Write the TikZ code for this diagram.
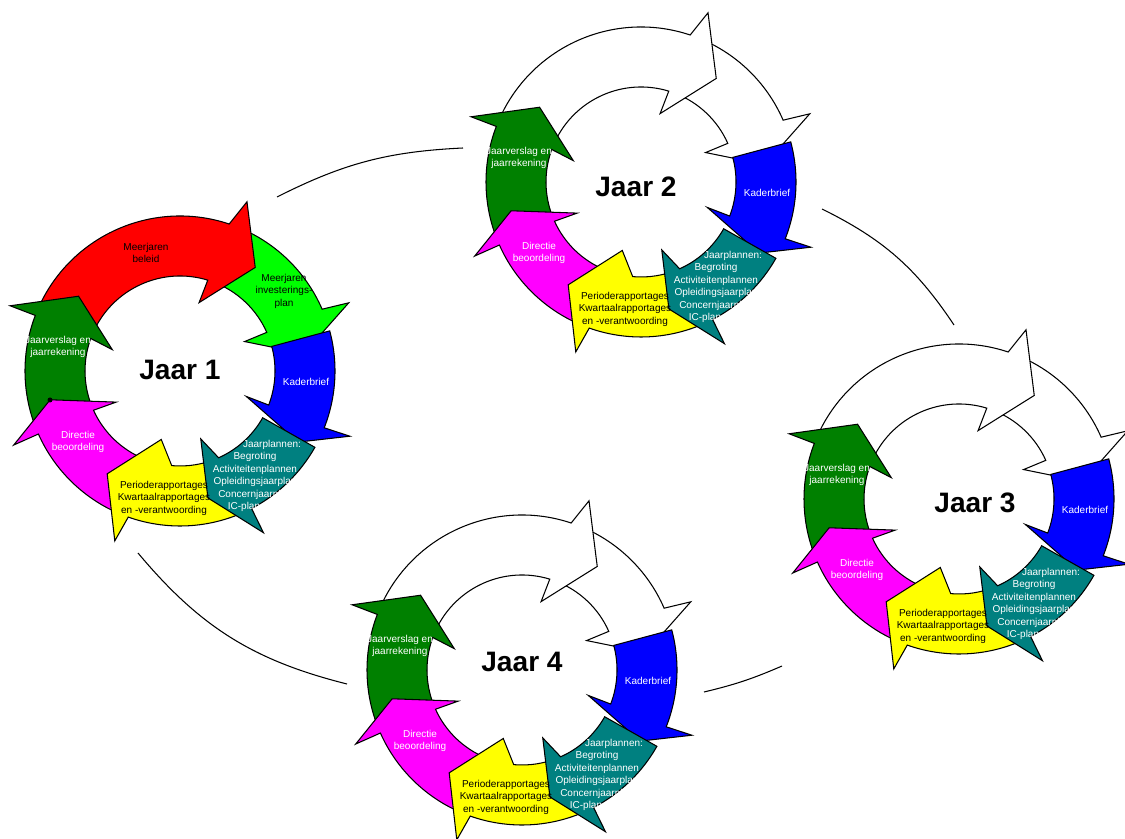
\documentclass[tikz,border=0pt]{standalone}
\usepackage{fontspec}
\setmainfont{Liberation Sans}
\usetikzlibrary{positioning}

\definecolor{jred}{RGB}{255,0,0}
\definecolor{jlime}{RGB}{0,255,0}
\definecolor{jblue}{RGB}{0,0,255}
\definecolor{jteal}{RGB}{0,128,128}
\definecolor{jyellow}{RGB}{255,255,0}
\definecolor{jmagenta}{RGB}{255,0,255}
\definecolor{jgreen}{RGB}{0,128,0}
\tikzstyle{ringpart}=[draw=black, line width=0.6pt, line join=miter]
\tikzstyle{lbl}=[font=\fontsize{5.7}{7.1}\selectfont, align=center, inner sep=0pt]
\tikzstyle{jaar}=[font=\fontsize{16}{19}\selectfont\bfseries, inner sep=0pt]
\tikzstyle{link}=[draw=black, line width=0.6pt]

% one curved arrow of a cycle: fill, tail, outer notch, outer barb, tip angle, tip radius, inner barb, inner notch
\newcommand{\ringseg}[8]{%
  \filldraw[ringpart, fill=#1] (#2:155) arc[start angle=#2, end angle=#3, radius=155]
    -- (#4:182) -- (#5:#6) -- (#7:71) -- (#8:95) arc[start angle=#8, end angle=#2, radius=95] -- cycle;}

% a whole year: centre, first colour, second colour, name prefix
\newcommand{\jaarcycle}[4]{%
  \begin{scope}[shift={#1}]
    \ringseg{#3}{69}{23.5}{22}{8}{125}{24.5}{24}
    \ringseg{jblue}{15}{-21.5}{-21}{-31}{138}{-21}{-21}
    \ringseg{#2}{155}{71.5}{68.4}{54}{128}{74.4}{73}
    \ringseg{jgreen}{201}{159}{159}{143.6}{126}{162.5}{160}
    \ringseg{jmagenta}{248}{204}{204}{192.5}{133}{206}{204.4}
    \ringseg{jyellow}{-67}{-109.5}{-111}{-125.3}{126}{-105.3}{-95}
    \ringseg{jteal}{-29.5}{-62.5}{-62.7}{-77.6}{130}{-73}{-66}
    \node[lbl, text=white] (#4kader) at (126,-11) {Kaderbrief};
    \node[lbl, text=white] (#4plan) at (75,-105) {\hspace*{3.4em}Jaarplannen:\\Begroting\\Activiteitenplannen\\Opleidingsjaarplan\\Concernjaarplan\hspace*{2.2em}\\IC-plan\hspace*{2.2em}};
    \node[lbl] (#4rapp) at (-16,-127) {Perioderapportages\\Kwartaalrapportages\\en -verantwoording};
    \node[lbl, text=white] (#4dir) at (-102,-71) {Directie\\beoordeling};
    \node[lbl, text=white] (#4versl) at (-122,24) {Jaarverslag en\\jaarrekening};
  \end{scope}}

\begin{document}
\begin{tikzpicture}[x=0.02cm, y=0.02cm]
\clip (0,0) rectangle (1125,838);

% links between the years
\coordinate (l1a) at (277,641);
\coordinate (l1b) at (463,690);
\coordinate (l2a) at (822,629);
\coordinate (l2b) at (954,513);
\coordinate (l3a) at (782,172);
\coordinate (l3b) at (704,146);
\coordinate (l4a) at (347,154);
\coordinate (l4b) at (138,285);
\draw[link] (l1a) to[bend left=12] (l1b);
\draw[link] (l2a) to[bend left=15] (l2b);
\draw[link] (l3a) to[bend left=5] (l3b);
\draw[link] (l4a) to[bend left=18] (l4b);

\jaarcycle{(180,467)}{jred}{jlime}{a}
\jaarcycle{(641,656)}{white}{white}{b}
\jaarcycle{(959,339)}{white}{white}{c}
\jaarcycle{(522,168)}{white}{white}{d}

\node[lbl] (abeleid) at (146,585) {Meerjaren\\beleid};
\node[lbl] (ainvest) at (284,547) {Meerjaren\\investerings-\\plan};
\node[circle, fill=black, inner sep=0pt, minimum size=0.1cm] (dot) at (50,438) {};

\node[jaar] (j1) at (180,468) {Jaar 1};
\node[jaar] (j2) at (636,651) {Jaar 2};
\node[jaar] (j3) at (975,335) {Jaar 3};
\node[jaar] (j4) at (522,176) {Jaar 4};
\end{tikzpicture}
\end{document}
